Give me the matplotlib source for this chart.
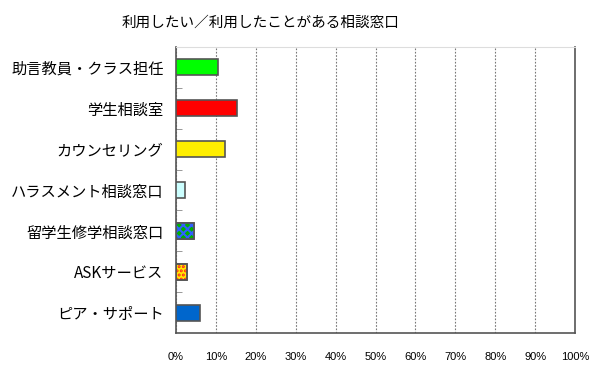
import numpy as np
import matplotlib
matplotlib.use('Agg')
import matplotlib.pyplot as plt

plt.rcParams['font.family'] = ['Noto Sans CJK JP', 'DejaVu Sans']

categories = ['助言教員・クラス担任', '学生相談室', 'カウンセリング', 'ハラスメント相談窓口',
              '留学生修学相談窓口', 'ASKサービス', 'ピア・サポート']
values = [10.6, 15.2, 12.3, 2.3, 4.6, 2.8, 6.1]
face_colors = ['#00ff00', '#ff0000', '#ffee00', '#ccffff', '#00b000', '#ffee00', '#0066cc']
hatch_colors = [None, None, None, None, '#3060ff', '#ff2020', None]
hatches = [None, None, None, None, 'xxxx', '....', None]
x_ticks = list(range(0, 101, 10))

fig = plt.figure(figsize=(6, 3.72), dpi=100)
ax = fig.add_axes([176 / 600, 1 - 333 / 372, 399 / 600, 286 / 372])

n = len(categories)
ypos = np.arange(n)
plt.rcParams['hatch.linewidth'] = 1.5
for i in range(n):
    ax.barh(ypos[i], values[i], height=0.39, color=face_colors[i],
            edgecolor='#555555', linewidth=1.2, zorder=3)
    if hatches[i]:
        ax.barh(ypos[i], values[i], height=0.39, facecolor='none',
                edgecolor=hatch_colors[i], hatch=hatches[i], linewidth=0, zorder=4)
        ax.barh(ypos[i], values[i], height=0.39, facecolor='none',
                edgecolor='#555555', linewidth=1.2, zorder=5)

ax.set_xlim(0, 100)
ax.set_ylim(n - 0.5, -0.5)
ax.set_xticks(x_ticks)
ax.set_xticklabels([f'{t}%' for t in x_ticks], fontsize=8, family=['Liberation Sans', 'DejaVu Sans'])
ax.tick_params(axis='x', length=0, pad=14)
ax.set_yticks(ypos)
ax.set_yticklabels(categories, fontsize=11)
ax.tick_params(axis='y', length=0, pad=9)
ax.set_yticks(np.arange(n - 1) + 0.5, minor=True)
ax.tick_params(axis='y', which='minor', direction='in', length=4, color='#888888')
ax.grid(axis='x', linestyle=(0, (1.5, 1.5)), color='#777777', linewidth=0.8, zorder=0)

for s in ['left', 'bottom', 'right']:
    ax.spines[s].set_color('#555555')
    ax.spines[s].set_linewidth(1.2)
ax.spines['top'].set_color('#dddddd')

fig.text(261 / 600, 1 - 23 / 372, '利用したい／利用したことがある相談窓口', ha='center', va='center', fontsize=10.5)

fig.savefig('out.png', dpi=100)
